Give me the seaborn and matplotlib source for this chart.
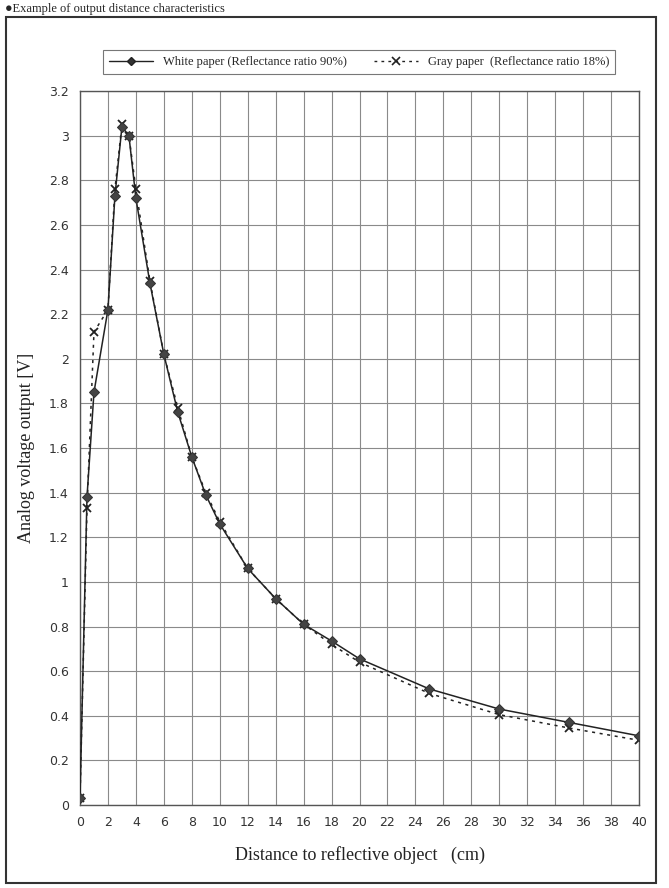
import numpy as np
import pandas as pd
import matplotlib
matplotlib.use("Agg")
import matplotlib.pyplot as plt
import seaborn as sns
from matplotlib.patches import Rectangle
from matplotlib.lines import Line2D

# distance (cm) and output (V)
distance = [0, 0.5, 1, 2, 2.5, 3, 3.5, 4, 5, 6, 7, 8, 9, 10, 12, 14, 16, 18, 20, 25, 30, 35, 40]
white_v = [0.03, 1.38, 1.85, 2.22, 2.73, 3.04, 3.00, 2.72, 2.34, 2.02, 1.76, 1.56, 1.39, 1.26,
           1.06, 0.925, 0.81, 0.735, 0.655, 0.52, 0.43, 0.37, 0.31]
gray_v = [0.03, 1.33, 2.12, 2.22, 2.76, 3.05, 3.00, 2.76, 2.35, 2.02, 1.78, 1.56, 1.40, 1.27,
          1.06, 0.925, 0.81, 0.72, 0.64, 0.50, 0.405, 0.345, 0.29]
x_ticks = list(range(0, 41, 2))
y_ticks = [round(0.2 * i, 1) for i in range(17)]

white_label = "White paper (Reflectance ratio 90%)"
gray_label = "Gray paper  (Reflectance ratio 18%)"

sns.set_style("white")
plt.rcParams['font.family'] = ['Liberation Serif', 'DejaVu Serif']

fig = plt.figure(figsize=(6.69, 8.88), dpi=100)
ax = fig.add_axes([80 / 669, 1 - 805 / 888, (639 - 80) / 669, (805 - 91) / 888])

df_w = pd.DataFrame({"d": distance, "v": white_v})
df_g = pd.DataFrame({"d": distance, "v": gray_v})

sns.lineplot(data=df_g, x="d", y="v", ax=ax, sort=False, color="#222222", lw=1.1,
             linestyle=(0, (2, 3)), marker="x", markersize=6, markeredgewidth=1.3,
             markeredgecolor="#222222", zorder=3)
sns.lineplot(data=df_w, x="d", y="v", ax=ax, sort=False, color="#222222", lw=1.1,
             marker="D", markersize=5, markerfacecolor="#444444", markeredgecolor="#333333",
             zorder=4)

ax.set_xlim(0, 40)
ax.set_ylim(0, 3.2)
ax.set_xticks(x_ticks)
ax.set_yticks(y_ticks)
ax.set_xticklabels([str(t) for t in x_ticks], fontsize=9, family="DejaVu Sans", color="#333333")
ax.set_yticklabels([f"{t:g}" for t in y_ticks], fontsize=9, family="DejaVu Sans", color="#333333")
ax.grid(True, color="#8a8a8a", lw=0.8)
ax.tick_params(length=0, pad=8)
for s in ax.spines.values():
    s.set_color("#555555")
    s.set_linewidth(1.0)

ax.set_xlabel("Distance to reflective object   (cm)", fontsize=13, labelpad=12, color="#222222")
ax.set_ylabel("Analog voltage output [V]", fontsize=13, labelpad=10, color="#222222")

handles = [
    Line2D([], [], color="#222222", lw=1.0, marker="D", markersize=4,
           markerfacecolor="#333333"),
    Line2D([], [], color="#222222", lw=1.0, linestyle=(0, (2, 3)), marker="x",
           markersize=6, markeredgewidth=1.2),
]
leg = fig.legend(handles, [white_label, gray_label], loc="center",
                 bbox_to_anchor=(359 / 669, 1 - 62 / 888), ncol=2, fontsize=9,
                 frameon=True, fancybox=False, edgecolor="#555555", handlelength=3.5,
                 columnspacing=2.2, borderpad=0.5)
leg.get_frame().set_linewidth(0.8)

# outer frame and heading
fig.patches.append(Rectangle((6 / 669, 1 - 883 / 888), 650 / 669, 866 / 888,
                             transform=fig.transFigure, fill=False, ec="#333333", lw=1.5))
fig.text(5 / 669, 1 - 9 / 888, "\u25cfExample of output distance characteristics",
         fontsize=9, va="center", ha="left", family=["Liberation Serif", "DejaVu Sans"])

fig.savefig("out.png", dpi=100)
